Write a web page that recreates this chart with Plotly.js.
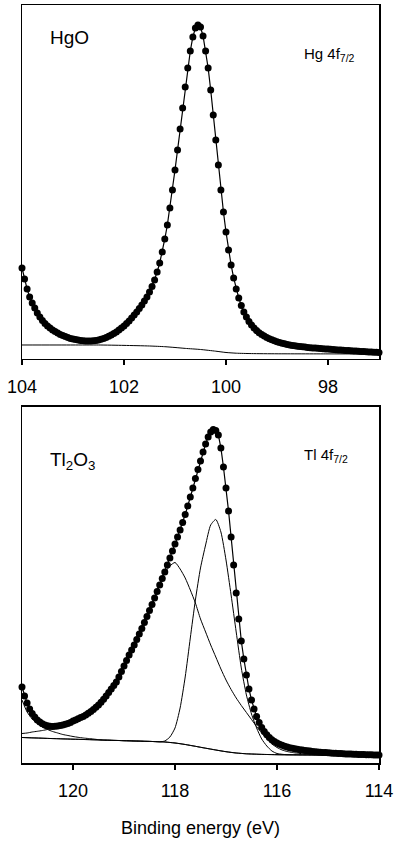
<!DOCTYPE html>
<html>
<head>
<meta charset="utf-8">
<script src="https://cdn.plot.ly/plotly-3.0.1.min.js"></script>
<style>html,body{margin:0;padding:0;background:#fff}#chart{width:394px;height:841px}</style>
</head>
<body>
<div id="chart"></div>
<script>
// ---------- HgO, Hg 4f7/2 (0.05 eV scan, 104 -> 97 eV) ----------
const hgStart = 104, hgEnd = 97, hgStep = 0.05;
const hgCounts = [
  91, 80, 70, 62, 56, 51, 46, 42, 38.5, 35.5,
  33, 31, 29, 27.5, 26, 24.5, 23.5, 22.5, 21.5, 20.5,
  20, 19.5, 19, 18.5, 18.2, 18, 18, 18, 18.2, 18.5,
  19, 19.7, 20.5, 21.5, 22.7, 24, 25.5, 27, 29, 31,
  33, 35.5, 38, 41, 44, 47, 50.5, 54, 58, 62,
  67, 72.5, 79, 87, 96, 107, 120, 134, 151, 169,
  189, 209, 230, 251, 272, 291, 308, 322, 331, 334,
  332, 323, 308, 291, 269, 244, 219, 194, 169, 147,
  127, 109, 94, 81, 70, 61, 53.5, 47, 42, 37.5,
  34, 31, 28.5, 26.3, 24.5, 23, 21.5, 20.3, 19.2, 18.2,
  17.3, 16.5, 15.8, 15.2, 14.6, 14.1, 13.6, 13.2, 12.8, 12.5,
  12.2, 11.9, 11.6, 11.3, 11.1, 10.9, 10.7, 10.5, 10.3, 10.1,
  9.9, 9.7, 9.5, 9.3, 9.1, 8.9, 8.7, 8.6, 8.4, 8.2,
  8, 7.9, 7.7, 7.6, 7.4, 7.3, 7.1, 7, 6.8, 6.7,
  6.5
];
const hgBgEnergy = [104, 103, 102.5, 102, 101.5, 101.2, 101, 100.8, 100.5, 100.2, 100, 99.8, 99.5, 99, 98, 97];
const hgBg       = [14, 14, 14, 13.6, 13, 12.3, 11.5, 10.6, 9.5, 7.8, 6.5, 5.8, 5.4, 5.2, 5.1, 5];

// ---------- Tl2O3, Tl 4f7/2 (0.05 eV scan, 121 -> 114 eV) ----------
const tlStart = 121, tlEnd = 114, tlStep = 0.05;
const tlCounts = [
  76, 67, 60, 54, 49.5, 46, 43, 41, 39.3, 38,
  37.2, 36.7, 36.5, 36.7, 37, 37.5, 38.1, 38.8, 39.6, 40.5,
  42, 43, 44.2, 45.5, 46.5, 48, 49.7, 51.5, 53.5, 55.7,
  58, 60.7, 63.7, 67, 70.5, 74, 77.5, 81, 86, 91.5,
  97, 102.5, 108, 113, 118, 123.5, 129, 134.5, 140.5, 146.5,
  152.5, 158.5, 165, 171.5, 178, 184.5, 191, 198, 205, 212,
  219, 226, 233, 240.5, 248.5, 257, 266, 275, 284.5, 293.5,
  302, 311, 319, 326, 331, 333.5, 332.5, 328, 315, 296,
  275, 252, 226, 198, 170, 144, 122, 104, 88, 74,
  63, 54, 46.5, 40.5, 35.5, 31.5, 28.2, 25.5, 23.3, 21.5,
  20, 18.8, 17.7, 16.8, 16, 15.3, 14.7, 14.2, 13.7, 13.3,
  12.9, 12.5, 12.2, 11.9, 11.6, 11.3, 11, 10.8, 10.6, 10.4,
  10.2, 10, 9.8, 9.7, 9.5, 9.4, 9.2, 9.1, 9, 8.9,
  8.8, 8.7, 8.6, 8.5, 8.4, 8.3, 8.2, 8.2, 8.1, 8,
  8
];
// fitted components (0.1 eV, 121 -> 114 eV)
const compStep = 0.1;
const tlBroad = [
  29.5, 30, 31, 31.7, 32.5, 33.5, 34.5, 35.7, 37, 38.5,
  40, 42.2, 45, 48.5, 52.5, 57, 63, 70, 77.5, 86,
  97, 108, 118, 129, 140.5, 152.5, 165, 178, 190, 197,
  200.5, 194, 185, 173, 160, 144, 131, 118, 106, 94,
  83, 73.5, 65, 57.5, 50.5, 43.5, 36.5, 30, 24, 19,
  15.5, 13, 11.5, 10.5, 9.8, 9.3, 9, 8.8, 8.6, 8.5,
  8.4, 8.3, 8.2, 8.1, 8.1, 8, 8, 7.9, 7.9, 7.8,
  7.8
];
const tlNarrow = [
  25.5, 25.3, 25.1, 25, 24.8, 24.6, 24.4, 24.3, 24.1, 24,
  23.8, 23.7, 23.5, 23.4, 23.2, 23.1, 22.9, 22.8, 22.6, 22.5,
  22.3, 22.2, 22, 21.9, 21.7, 21.6, 21.4, 21.2, 22, 26,
  35, 55, 86, 125, 163, 195, 218, 238, 243.5, 231,
  203, 168, 131, 95, 68, 49, 35, 24, 17, 12,
  9.5, 8.7, 8.3, 8.2, 8.2, 8.1, 8.1, 8, 8, 8,
  8, 8, 7.9, 7.9, 7.9, 7.9, 7.8, 7.8, 7.8, 7.8,
  7.8
];
const tlSmall = [
  63, 51, 44, 39.5, 36, 33.5, 31.5, 30, 28.5, 27.5,
  26.5, 25.7, 25, 24.5, 24, 23.3, 22.9, 22.8, 22.6, 22.5,
  22.3, 22.2, 22, 21.9, 21.7, 21.6, 21.4, 21.2, 21, 20.5,
  20, 19.3, 18.5, 17.6, 16.7, 15.7, 14.8, 13.9, 13, 12.1,
  11.3, 10.6, 10, 9.6, 9.2, 9, 8.8, 8.6, 8.5, 8.4,
  8.3, 8.2, 8.2, 8.2, 8.1, 8.1, 8.1, 8, 8, 8,
  8, 8, 7.9, 7.9, 7.9, 7.9, 7.8, 7.8, 7.8, 7.8,
  7.8
];
const tlBgEnergy = [121, 120.5, 120, 119.5, 119, 118.5, 118.2, 118, 117.8, 117.6, 117.4, 117.2, 117, 116.8, 116.6, 116.4, 116.2, 116, 115.5, 115, 114.5, 114];
const tlBg       = [25.5, 24.6, 23.8, 23.1, 22.3, 21.6, 21, 20, 18.5, 16.7, 14.8, 13, 11.3, 10, 9.2, 8.8, 8.5, 8.3, 8.1, 8, 7.9, 7.8];

const hgTicks = [104, 102, 100, 98];
const tlTicks = [120, 118, 116, 114];

// scan grid helper (descending binding energy)
function grid(start, n, step) {
  const out = [];
  for (let i = 0; i < n; i++) out.push(Math.round((start - i * step) * 100) / 100);
  return out;
}
const hgEnergy = grid(hgStart, hgCounts.length, hgStep);
const tlEnergy = grid(tlStart, tlCounts.length, tlStep);
const compEnergy = grid(tlStart, tlBroad.length, compStep);

const FONT = 'Liberation Sans, Arial, Helvetica, sans-serif';
const dots = {size: 7, color: '#000'};
const fitLine = {color: '#000', width: 1.2};
const compLine = {color: '#000', width: 1, shape: 'spline', smoothing: 0.6};

const traces = [
  {x: hgBgEnergy, y: hgBg, xaxis: 'x', yaxis: 'y', mode: 'lines', line: compLine, hoverinfo: 'skip'},
  {x: hgEnergy, y: hgCounts, xaxis: 'x', yaxis: 'y', mode: 'lines+markers', line: fitLine, marker: dots, cliponaxis: false},
  {x: tlBgEnergy, y: tlBg, xaxis: 'x2', yaxis: 'y2', mode: 'lines', line: compLine},
  {x: compEnergy, y: tlSmall, xaxis: 'x2', yaxis: 'y2', mode: 'lines', line: compLine},
  {x: compEnergy, y: tlBroad, xaxis: 'x2', yaxis: 'y2', mode: 'lines', line: compLine},
  {x: compEnergy, y: tlNarrow, xaxis: 'x2', yaxis: 'y2', mode: 'lines', line: compLine},
  {x: tlEnergy, y: tlCounts, xaxis: 'x2', yaxis: 'y2', mode: 'lines+markers', line: fitLine, marker: dots, cliponaxis: false}
];

const xCommon = {
  ticks: 'outside', ticklen: 5, tickwidth: 1.5, tickcolor: '#000',
  showline: true, linecolor: '#000', linewidth: 1.5, mirror: true,
  showgrid: false, zeroline: false,
  tickfont: {family: FONT, size: 18, color: '#000'},
  ticklabelstandoff: 6
};
const yCommon = {
  showticklabels: false, ticks: '', showline: true, linecolor: '#000', linewidth: 1.5,
  mirror: true, showgrid: false, zeroline: false
};

const layout = {
  width: 394, height: 841,
  margin: {l: 22, r: 15, t: 5, b: 78},
  paper_bgcolor: '#fff', plot_bgcolor: '#fff',
  showlegend: false,
  font: {family: FONT, color: '#000'},
  xaxis: Object.assign({}, xCommon, {anchor: 'y', range: [104, 97], tickvals: hgTicks, ticktext: hgTicks.map(String)}),
  yaxis: Object.assign({}, yCommon, {anchor: 'x', domain: [0.533, 1], range: [0, 354]}),
  xaxis2: Object.assign({}, xCommon, {anchor: 'y2', range: [121, 114], tickvals: tlTicks, ticktext: tlTicks.map(String)}),
  yaxis2: Object.assign({}, yCommon, {anchor: 'x2', domain: [0, 0.4697], range: [0, 356]}),
  annotations: [
    {text: 'HgO', xref: 'paper', yref: 'paper', x: 0.0715, y: 0.957, xanchor: 'left', yanchor: 'middle', showarrow: false, font: {family: FONT, size: 19, color: '#000'}},
    {text: 'Hg 4f<sub>7/2</sub>', xref: 'paper', yref: 'paper', x: 0.784, y: 0.935, xanchor: 'left', yanchor: 'middle', showarrow: false, font: {family: FONT, size: 15, color: '#000'}},
    {text: 'Tl<sub>2</sub>O<sub>3</sub>', xref: 'paper', yref: 'paper', x: 0.0715, y: 0.399, xanchor: 'left', yanchor: 'middle', showarrow: false, font: {family: FONT, size: 19, color: '#000'}},
    {text: 'Tl 4f<sub>7/2</sub>', xref: 'paper', yref: 'paper', x: 0.784, y: 0.406, xanchor: 'left', yanchor: 'middle', showarrow: false, font: {family: FONT, size: 15, color: '#000'}},
    {text: 'Binding energy (eV)', xref: 'paper', yref: 'paper', x: 0.5, y: -0.0858, xanchor: 'center', yanchor: 'middle', showarrow: false, font: {family: FONT, size: 18, color: '#000'}}
  ]
};

Plotly.newPlot('chart', traces, layout, {staticPlot: true, displayModeBar: false});
</script>
</body>
</html>
